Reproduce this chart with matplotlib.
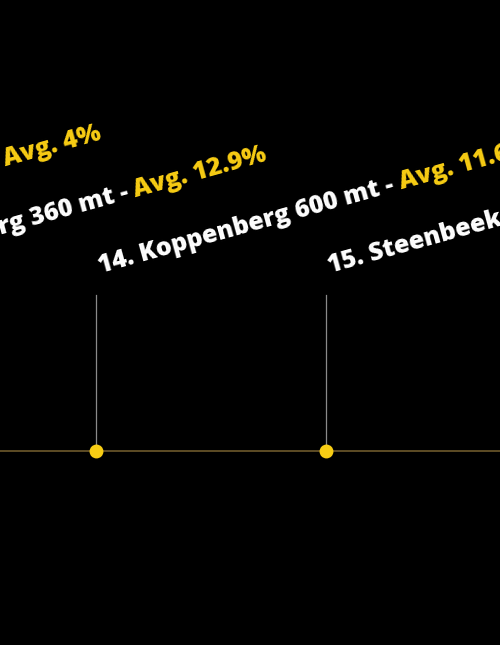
import math
import matplotlib
matplotlib.use("Agg")
import matplotlib.pyplot as plt

# climbs (km into the race), names, length, average gradient
climb_no = [12, 13, 14, 15]
climb_name = ["Oude Kwaremont", "Paterberg", "Koppenberg", "Steenbeekdries"]
climb_len = [2200, 360, 600, 820]
climb_avg = ["4%", "12.9%", "11.6%", "5.3%"]
climb_km = [204.0, 209.2, 214.4, 219.4]

BG = "#000000"
YEL = "#f8cd14"
FONT = dict(family="Open Sans", weight=800, fontsize=18)

fig = plt.figure(figsize=(5, 6.45), dpi=100, facecolor=BG)
ax = fig.add_axes([0, 0, 1, 1], facecolor=BG)
ax.set_xlim(212.313, 223.183)
ax.set_ylim(-194, 451)
ax.axis("off")

ax.axhline(0, color="#6e5a2c", lw=1.2, zorder=1)
for km in climb_km:
    ax.plot([km, km], [0, 156], color="#8a8a8a", lw=0.9, zorder=1)
ax.plot(climb_km, [0] * len(climb_km), "o", ms=10, color=YEL, mec="none", zorder=3)

renderer = fig.canvas.get_renderer()
dpi = fig.dpi
ang = 15.5
ca, sa = math.cos(math.radians(ang)), math.sin(math.radians(ang))


def width_pt(s):
    t = fig.text(0, 0, s, **FONT)
    w = t.get_window_extent(renderer).width
    t.remove()
    return w * 72 / dpi


for n, name, ln, avg, km in zip(climb_no, climb_name, climb_len, climb_avg, climb_km):
    white = f"{n}. {name} {ln} mt - "
    yel = f"Avg. {avg}"
    x0, y0 = 3, 178 * 72 / dpi
    kw = dict(xy=(km, 0), textcoords="offset points", rotation=ang,
              rotation_mode="anchor", ha="left", va="baseline",
              annotation_clip=False, **FONT)
    ax.annotate(white, xytext=(x0, y0), color="white", **kw)
    w = width_pt(white + yel) - width_pt(yel)
    ax.annotate(yel, xytext=(x0 + w * ca, y0 + w * sa), color=YEL, **kw)

fig.savefig("out.png", dpi=100, facecolor=BG)
